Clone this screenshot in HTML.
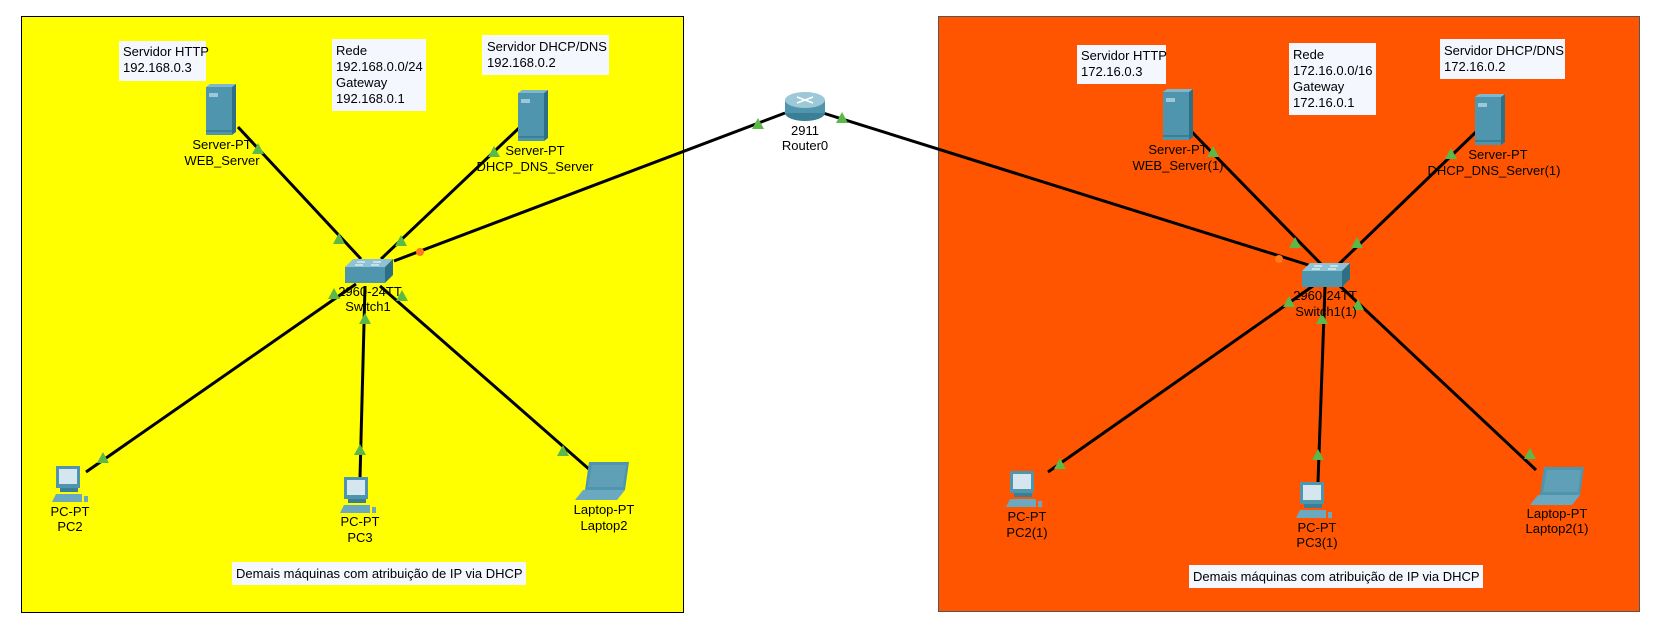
<!DOCTYPE html>
<html><head><meta charset="utf-8"><style>
html,body{margin:0;padding:0;background:#fff;}
svg{display:block;}
text{font-family:"Liberation Sans",sans-serif;font-size:13px;fill:#000;}
</style></head><body>
<svg width="1661" height="635" viewBox="0 0 1661 635" xmlns="http://www.w3.org/2000/svg">
<defs>
<g id="srv">
  <rect x="0" y="3" width="26" height="48" fill="#4f95ad"/>
  <polygon points="0,3 4,0 30,0 26,3" fill="#7fb8cc"/>
  <polygon points="26,3 30,0 30,48 26,51" fill="#2f6f86"/>
  <rect x="3" y="9" width="9" height="4" fill="#9cc8d8"/>
  <rect x="0" y="46" width="26" height="2" fill="#3a7f96"/>
</g>
<g id="pc">
  <rect x="4" y="0" width="24" height="22" fill="#4f95ad"/>
  <rect x="7" y="3" width="18" height="15" fill="#d5e6ee"/>
  <rect x="8" y="22" width="18" height="4" fill="#3a7f96"/>
  <polygon points="0,36 4,28 30,28 30,36" fill="#6aa9bf"/>
  <rect x="32" y="30" width="4" height="6" fill="#6aa9bf"/>
</g>
<g id="lap">
  <polygon points="14,0 54,0 50,28 10,28" fill="#4f95ad"/>
  <polygon points="17,3 51,3 48,25 13,25" fill="#5fa0b7"/>
  <polygon points="8,28 50,28 42,38 0,38" fill="#6aa9bf"/>
</g>
<g id="sw">
  <polygon points="0,8 8,0 48,0 40,8" fill="#8fc2d4"/>
  <rect x="0" y="8" width="40" height="16" fill="#4f95ad"/>
  <polygon points="40,8 48,0 48,16 40,24" fill="#2f6f86"/>
  <path d="M12 3 h8 M28 3 h8 M10 6 h8 M26 6 h8" stroke="#fff" stroke-width="1"/>
</g>
<g id="tri"><polygon points="0,-7 6,4 -6,4" fill="#5cb848"/></g>
</defs>

<!-- areas -->
<rect x="21.5" y="16.5" width="662" height="596" fill="#ffff00" stroke="#000" stroke-width="1"/>
<rect x="938.5" y="16.5" width="701" height="595" fill="#ff5500" stroke="#555" stroke-width="1"/>

<!-- links left -->
<g stroke="#000" stroke-width="3" fill="none">
<line x1="238" y1="127" x2="361" y2="259"/>
<line x1="519" y1="128" x2="381" y2="259"/>
<line x1="785" y1="113" x2="394" y2="261"/>
<line x1="356" y1="284" x2="86" y2="472"/>
<line x1="365" y1="286" x2="360" y2="478"/>
<line x1="380" y1="286" x2="590" y2="470"/>
<!-- right -->
<line x1="823" y1="113" x2="1318" y2="268"/>
<line x1="1192" y1="132" x2="1322" y2="265"/>
<line x1="1478" y1="130" x2="1338" y2="265"/>
<line x1="1313" y1="286" x2="1048" y2="472"/>
<line x1="1325" y1="287" x2="1318" y2="482"/>
<line x1="1340" y1="286" x2="1536" y2="470"/>
</g>

<!-- triangles -->
<use href="#tri" x="258" y="150"/><use href="#tri" x="339" y="240"/><use href="#tri" x="401" y="242"/>
<use href="#tri" x="494" y="153"/><use href="#tri" x="758" y="125"/><use href="#tri" x="842" y="119"/>
<use href="#tri" x="334" y="295"/><use href="#tri" x="103" y="459"/><use href="#tri" x="365" y="320"/>
<use href="#tri" x="360" y="451"/><use href="#tri" x="402" y="297"/><use href="#tri" x="563" y="452"/>
<use href="#tri" x="1213" y="153"/><use href="#tri" x="1295" y="244"/><use href="#tri" x="1357" y="244"/>
<use href="#tri" x="1451" y="155"/><use href="#tri" x="1289" y="303"/><use href="#tri" x="1322" y="320"/>
<use href="#tri" x="1358" y="306"/><use href="#tri" x="1060" y="465"/><use href="#tri" x="1318" y="456"/>
<use href="#tri" x="1530" y="455"/>
<circle cx="420" cy="252" r="4" fill="#ff7a1a"/>
<circle cx="1279" cy="259" r="4" fill="#ff7a1a"/>

<!-- router -->
<ellipse cx="805" cy="113" rx="20" ry="8" fill="#3a7f96"/>
<rect x="785" y="100" width="40" height="13" fill="#4f95ad"/>
<ellipse cx="805" cy="100" rx="20" ry="8" fill="#9cc8d8"/>
<path d="M797 97 l16 6 M813 97 l-16 6" stroke="#fff" stroke-width="1.5"/>
<text x="805" y="135" text-anchor="middle">2911</text>
<text x="805" y="150" text-anchor="middle">Router0</text>

<!-- left devices -->
<use href="#srv" x="206" y="84"/>
<text x="222" y="149" text-anchor="middle">Server-PT</text>
<text x="222" y="165" text-anchor="middle">WEB_Server</text>
<use href="#srv" x="518" y="90"/>
<text x="535" y="155" text-anchor="middle">Server-PT</text>
<text x="535" y="171" text-anchor="middle">DHCP_DNS_Server</text>
<use href="#sw" x="345" y="259"/>
<text x="370" y="296" text-anchor="middle">2960-24TT</text>
<text x="368" y="311" text-anchor="middle">Switch1</text>
<use href="#pc" x="52" y="466"/>
<text x="70" y="516" text-anchor="middle">PC-PT</text>
<text x="70" y="531" text-anchor="middle">PC2</text>
<use href="#pc" x="340" y="477"/>
<text x="360" y="526" text-anchor="middle">PC-PT</text>
<text x="360" y="542" text-anchor="middle">PC3</text>
<use href="#lap" x="575" y="462"/>
<text x="604" y="514" text-anchor="middle">Laptop-PT</text>
<text x="604" y="530" text-anchor="middle">Laptop2</text>

<!-- left notes -->
<rect x="119" y="41" width="87" height="40" fill="#f5f7ff"/>
<text x="123" y="56">Servidor HTTP</text><text x="123" y="72">192.168.0.3</text>
<rect x="332" y="39" width="94" height="72" fill="#f5f7ff"/>
<text x="336" y="55">Rede</text><text x="336" y="71">192.168.0.0/24</text>
<text x="336" y="87">Gateway</text><text x="336" y="103">192.168.0.1</text>
<rect x="482" y="35" width="127" height="40" fill="#f5f7ff"/>
<text x="487" y="51">Servidor DHCP/DNS</text><text x="487" y="67">192.168.0.2</text>
<rect x="232" y="562" width="294" height="23" fill="#f5f7ff"/>
<text x="236" y="578">Demais máquinas com atribuição de IP via DHCP</text>

<!-- right devices -->
<use href="#srv" x="1163" y="89"/>
<text x="1178" y="154" text-anchor="middle">Server-PT</text>
<text x="1178" y="170" text-anchor="middle">WEB_Server(1)</text>
<use href="#srv" x="1475" y="94"/>
<text x="1498" y="159" text-anchor="middle">Server-PT</text>
<text x="1494" y="175" text-anchor="middle">DHCP_DNS_Server(1)</text>
<use href="#sw" x="1302" y="263"/>
<text x="1325" y="300" text-anchor="middle">2960-24TT</text>
<text x="1326" y="316" text-anchor="middle">Switch1(1)</text>
<use href="#pc" x="1006" y="471"/>
<text x="1027" y="521" text-anchor="middle">PC-PT</text>
<text x="1027" y="537" text-anchor="middle">PC2(1)</text>
<use href="#pc" x="1296" y="482"/>
<text x="1317" y="532" text-anchor="middle">PC-PT</text>
<text x="1317" y="547" text-anchor="middle">PC3(1)</text>
<use href="#lap" x="1530" y="467"/>
<text x="1557" y="518" text-anchor="middle">Laptop-PT</text>
<text x="1557" y="533" text-anchor="middle">Laptop2(1)</text>

<!-- right notes -->
<rect x="1077" y="45" width="89" height="39" fill="#f5f7ff"/>
<text x="1081" y="60">Servidor HTTP</text><text x="1081" y="76">172.16.0.3</text>
<rect x="1289" y="43" width="87" height="72" fill="#f5f7ff"/>
<text x="1293" y="59">Rede</text><text x="1293" y="75">172.16.0.0/16</text>
<text x="1293" y="91">Gateway</text><text x="1293" y="107">172.16.0.1</text>
<rect x="1440" y="39" width="125" height="40" fill="#f5f7ff"/>
<text x="1444" y="55">Servidor DHCP/DNS</text><text x="1444" y="71">172.16.0.2</text>
<rect x="1189" y="565" width="294" height="23" fill="#f5f7ff"/>
<text x="1193" y="581">Demais máquinas com atribuição de IP via DHCP</text>
</svg>
</body></html>
